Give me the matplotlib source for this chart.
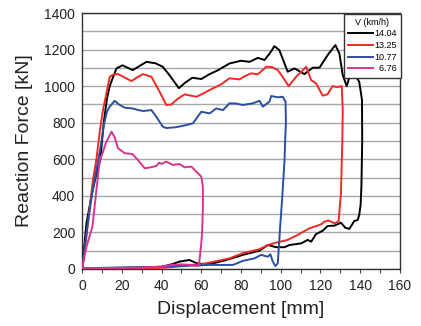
import matplotlib
matplotlib.use("Agg")
import matplotlib.pyplot as plt

plt.rcParams['font.family'] = ['Liberation Sans', 'DejaVu Sans']

labels = ["14.04", "13.25", "10.77", "  6.76"]
colors = ["#000000", "#ee2a24", "#2a4ea3", "#d9338f"]

x_black = [0, 2.2, 5, 7, 9.2, 10.9, 12.5, 13.9, 15.6, 17.3, 20.3, 25.5, 32.4, 37, 40.6, 44, 48.7, 52, 55.5, 60,
           64.2, 68, 74.2, 80, 84.3, 88.5, 91.8, 94.5, 96.8, 99.3, 103.5, 106.9, 111.9, 116.1, 119.5, 123.6, 127.5,
           129.5, 131.2, 133.2, 134.5, 137.9, 139.5, 140.9, 141.0, 140.6, 140.2, 139.5, 138.7, 137, 134.5, 132.5,
           130.3, 127, 123.6, 121.1, 117.8, 115.3, 113.6, 110.3, 104.4, 101.9, 97.7, 93.5, 89.3, 80.9, 72.6, 64.2,
           58, 54, 49, 45, 40, 30, 20, 10, 0]
f_black = [0, 250, 414, 510, 600, 800, 930, 1000, 1050, 1097, 1114, 1088, 1133, 1125, 1106, 1060, 989, 1020, 1046, 1039,
           1066, 1085, 1124, 1139, 1133, 1155, 1143, 1180, 1219, 1197, 1079, 1097, 1066, 1101, 1101, 1170, 1225,
           1179, 1061, 1000, 1048, 1052, 1024, 924, 700, 450, 350, 295, 268, 262, 219, 225,
           253, 237, 235, 209, 191, 149, 159, 140, 131, 119, 119, 131, 100, 77, 49, 26,
           30, 49, 40, 25, 12, 8, 6, 5, 3]

x_red = [0, 2, 3.9, 5.5, 7.2, 9, 10.5, 11.9, 13.9, 16, 18.1, 21, 24.8, 28, 30.7, 34.9, 38.5, 42.4, 45, 48, 51.6,
         57.5, 61, 64.2, 70, 74.2, 79.2, 82, 85.1, 88.5, 92.7, 95.5, 98.5, 101, 104, 107.7, 110.5, 112.8, 115.3,
         117.8, 121.1, 123.5, 126.1, 128.5, 130.7, 131.2, 131.0, 130.3, 129.1, 127, 124, 122, 120.3, 114.4, 108.5,
         103.5, 97.7, 93.5, 89.3, 80.9, 74.2, 64.2, 60.7, 55, 50, 45, 40, 30, 20, 10, 0]
f_red = [0, 160, 340, 490, 600, 760, 869, 942, 1051, 1065, 1066, 1050, 1028, 1050, 1066, 1051, 980, 897, 900, 930, 955,
         942, 960, 979, 1010, 1043, 1037, 1055, 1070, 1065, 1106, 1105, 1088, 1050, 1000, 1051, 1080, 1106, 1033,
         1015, 948, 955, 1000, 995, 1000, 869, 700, 415, 259, 250, 265, 259, 244, 222, 186,
         159, 144, 131, 108, 86, 58, 35, 27, 22, 15, 10, 6, 4, 3, 2, 2]

x_blue = [0, 2.5, 5, 7.5, 9.5, 11, 12.5, 13.9, 16.4, 18.5, 21.5, 25.5, 28, 30.7, 34.9, 37.5, 40.7, 42.4, 47, 52.5,
          55.8, 58, 60, 64.2, 67.5, 70.9, 74.2, 77.5, 80.9, 85.9, 89.3, 91, 94.3, 95.2, 98.5, 101, 102.4, 102.6,
          102.2, 101.9, 100.8, 99.7, 98.5, 97.3, 96, 94.8, 93.5, 90.1, 86.8, 80.9, 75.9, 64.2, 55, 45, 40, 30, 20,
          10, 0]
f_blue = [0, 220, 410, 560, 680, 790, 860, 888, 920, 900, 882, 878, 870, 864, 869, 830, 778, 771, 775, 787,
          797, 830, 860, 851, 878, 869, 906, 905, 897, 906, 920, 888, 915, 946, 939, 942, 915, 800,
          700, 596, 400, 231, 31, 16, 40, 80, 67, 77, 58, 44, 22, 22, 18, 15, 12, 10, 8,
          6, 4]

x_pink = [0, 2.2, 5.2, 7.2, 8.9, 10.5, 11.9, 14.8, 16.4, 18.1, 21.5, 25.3, 28.1, 31.5, 34, 37.4, 38.7, 40, 42.4,
          45.7, 49, 51.6, 55, 57.5, 60, 60.8, 60.8, 60.4, 60, 59.1, 58.6, 55, 50, 45, 40, 30, 20, 10, 0]
f_pink = [0, 122, 231, 432, 596, 640, 687, 751, 720, 660, 633, 629, 596, 551, 555, 563, 581, 575, 587,
          569, 574, 556, 560, 532, 505, 450, 330, 200, 140, 49, 16, 22, 25, 22, 12, 8, 6, 5, 4]

series_x = [x_black, x_red, x_blue, x_pink]
series_f = [f_black, f_red, f_blue, f_pink]

fig = plt.figure(figsize=(4.21, 3.26), dpi=100)
ax = fig.add_axes([0.195, 0.175, 0.755, 0.785])

for xs, fs, lab, col in zip(series_x, series_f, labels, colors):
    ax.plot(xs, fs, color=col, lw=1.4, label=lab, zorder=3)

ax.set_xlim(0, 160)
ax.set_ylim(0, 1400)
ax.set_xticks(range(0, 161, 20))
ax.set_xticks(range(0, 161, 10), minor=True)
ax.set_yticks(range(0, 1401, 200))
ax.set_yticks(range(0, 1401, 100), minor=True)
ax.grid(True, axis='y', which='both', color='#a8a8a8', lw=1.0, zorder=1)
ax.tick_params(axis='x', which='both', direction='out', length=3, width=0.8, color='#444444',
               labelsize=10, pad=4, labelcolor='#222222')
ax.tick_params(axis='y', which='both', length=0, labelsize=10, pad=5, labelcolor='#222222')
for s in ax.spines.values():
    s.set_color('#333333')
    s.set_linewidth(1.0)
ax.set_xlabel("Displacement [mm]", fontsize=14, color='#222222', labelpad=6)
ax.set_ylabel("Reaction Force [kN]", fontsize=14, color='#222222', labelpad=8)

leg = ax.legend(title="V (km/h)", loc='upper right', bbox_to_anchor=(1.004, 0.998),
                fontsize=6.5, title_fontsize=6.5, frameon=True, fancybox=False,
                handlelength=2.8, handletextpad=0.15, borderpad=0.45, labelspacing=0.3,
                borderaxespad=0.0)
leg.get_frame().set_edgecolor('#333333')
leg.get_frame().set_linewidth(1.0)
leg.get_frame().set_alpha(1)

fig.savefig("out.png", dpi=100)
